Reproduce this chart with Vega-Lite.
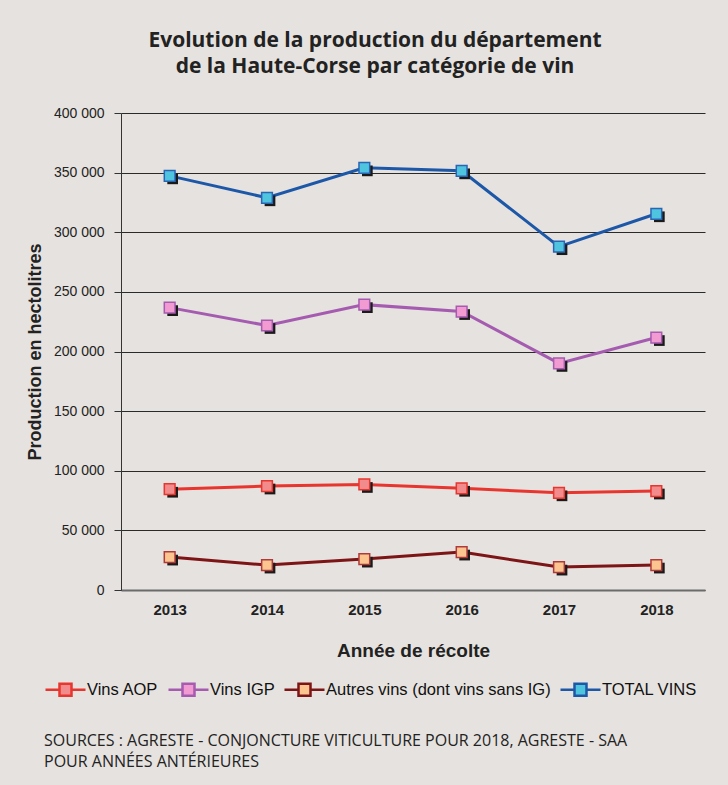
{
  "$schema": "https://vega.github.io/schema/vega-lite/v6.json",
  "width": 584,
  "height": 477,
  "autosize": {"type": "none"},
  "padding": {"left": 121, "top": 113, "right": 23, "bottom": 195},
  "background": "#e6e2df",
  "config": {
    "locale": {"number": {"decimal": ",", "thousands": " ", "grouping": [3], "currency": ["", " €"]}},
    "view": {"stroke": null},
    "font": "Liberation Sans"
  },
  "title": {
    "text": ["Evolution de la production du département", "de la Haute-Corse par catégorie de vin"],
    "font": "Open Sans",
    "fontSize": 21,
    "fontWeight": "bold",
    "color": "#222222",
    "anchor": "middle",
    "dx": -38,
    "lineHeight": 26,
    "offset": 29
  },
  "data": {
    "values": [
      {"annee": "2013", "serie": "Vins AOP", "valeur": 84500},
      {"annee": "2014", "serie": "Vins AOP", "valeur": 87200},
      {"annee": "2015", "serie": "Vins AOP", "valeur": 88500},
      {"annee": "2016", "serie": "Vins AOP", "valeur": 85300},
      {"annee": "2017", "serie": "Vins AOP", "valeur": 81500},
      {"annee": "2018", "serie": "Vins AOP", "valeur": 83000},
      {"annee": "2013", "serie": "Vins IGP", "valeur": 236800},
      {"annee": "2014", "serie": "Vins IGP", "valeur": 221800},
      {"annee": "2015", "serie": "Vins IGP", "valeur": 239300},
      {"annee": "2016", "serie": "Vins IGP", "valeur": 233500},
      {"annee": "2017", "serie": "Vins IGP", "valeur": 190000},
      {"annee": "2018", "serie": "Vins IGP", "valeur": 211700},
      {"annee": "2013", "serie": "Autres vins (dont vins sans IG)", "valeur": 27600},
      {"annee": "2014", "serie": "Autres vins (dont vins sans IG)", "valeur": 20900},
      {"annee": "2015", "serie": "Autres vins (dont vins sans IG)", "valeur": 25900},
      {"annee": "2016", "serie": "Autres vins (dont vins sans IG)", "valeur": 31800},
      {"annee": "2017", "serie": "Autres vins (dont vins sans IG)", "valeur": 19200},
      {"annee": "2018", "serie": "Autres vins (dont vins sans IG)", "valeur": 20900},
      {"annee": "2013", "serie": "TOTAL VINS", "valeur": 347300},
      {"annee": "2014", "serie": "TOTAL VINS", "valeur": 328900},
      {"annee": "2015", "serie": "TOTAL VINS", "valeur": 354000},
      {"annee": "2016", "serie": "TOTAL VINS", "valeur": 351500},
      {"annee": "2017", "serie": "TOTAL VINS", "valeur": 287900},
      {"annee": "2018", "serie": "TOTAL VINS", "valeur": 315500}
    ]
  },
  "encoding": {
    "x": {
      "field": "annee",
      "type": "ordinal",
      "scale": {"type": "point", "padding": 0.5},
      "axis": {
        "title": "Année de récolte",
        "titleFont": "Liberation Sans",
        "titleFontSize": 19,
        "titleFontWeight": "bold",
        "titleColor": "#222222",
        "titlePadding": 24,
        "labelFont": "Liberation Sans",
        "labelFontSize": 15,
        "labelFontWeight": "bold",
        "labelColor": "#222222",
        "labelPadding": 12,
        "labelAngle": 0,
        "ticks": false,
        "grid": false,
        "domainColor": "#6b6b6b",
        "domainWidth": 2
      }
    },
    "y": {
      "field": "valeur",
      "type": "quantitative",
      "scale": {"domain": [0, 400000], "nice": false},
      "axis": {
        "title": "Production en hectolitres",
        "titleFont": "Liberation Sans",
        "titleFontSize": 18,
        "titleFontWeight": "bold",
        "titleColor": "#222222",
        "titlePadding": 9,
        "labelFont": "Liberation Sans",
        "labelFontSize": 14,
        "labelColor": "#222222",
        "labelPadding": 10,
        "tickSize": 7,
        "tickColor": "#333333",
        "domainColor": "#333333",
        "grid": true,
        "gridColor": "#2a2a2a",
        "gridWidth": 1,
        "gridOpacity": 1,
        "values": [0, 50000, 100000, 150000, 200000, 250000, 300000, 350000, 400000],
        "format": ",d"
      }
    }
  },
  "layer": [
    {
      "mark": {"type": "line", "strokeWidth": 3},
      "encoding": {
        "color": {
          "field": "serie",
          "type": "nominal",
          "scale": {
            "domain": ["Vins AOP", "Vins IGP", "Autres vins (dont vins sans IG)", "TOTAL VINS"],
            "range": ["#e8352e", "#a55bb0", "#7d1416", "#1d58a8"]
          },
          "legend": {
            "orient": "none",
            "legendX": -77,
            "legendY": 555,
            "direction": "horizontal",
            "symbolType": "M-1,0H-0.3M0.3,0H1M-0.3,-0.3H0.3V0.3H-0.3Z",
            "symbolSize": 1600,
            "symbolStrokeWidth": 2.5,
            "symbolOpacity": 1,
            "labelFont": "Liberation Sans",
            "labelFontSize": 16.5,
            "labelColor": "#111111",
            "labelOffset": 0,
            "labelLimit": 400,
            "columnPadding": 4,
            "title": ["SOURCES : AGRESTE  -   CONJONCTURE VITICULTURE POUR 2018, AGRESTE  -  SAA", "POUR ANNÉES ANTÉRIEURES"],
            "titleOrient": "bottom",
            "titleAnchor": "start",
            "titleFont": "Open Sans",
            "titleFontSize": 16,
            "titleFontWeight": "normal",
            "titleColor": "#222222",
            "titleLimit": 800,
            "titleLineHeight": 21,
            "titlePadding": 32,
            "encode": {
              "symbols": {
                "update": {
                  "fill": {"scale": "fill", "field": "value"},
                  "stroke": {"scale": "color", "field": "value"}
                }
              }
            }
          }
        }
      }
    },
    {
      "mark": {"type": "point", "shape": "square", "filled": true, "size": 115, "xOffset": 3, "yOffset": 3, "color": "#1a1a1a", "opacity": 1},
      "encoding": {"detail": {"field": "serie", "type": "nominal"}}
    },
    {
      "mark": {"type": "point", "shape": "square", "filled": true, "size": 115, "strokeWidth": 1.5, "opacity": 1},
      "encoding": {
        "fill": {
          "field": "serie",
          "type": "nominal",
          "scale": {
            "domain": ["Vins AOP", "Vins IGP", "Autres vins (dont vins sans IG)", "TOTAL VINS"],
            "range": ["#f28b8b", "#f29ad2", "#fcc58f", "#4ec4df"]
          },
          "legend": {
            "orient": "none",
            "legendX": -77,
            "legendY": 555,
            "direction": "horizontal",
            "symbolType": "M-1,0H-0.3M0.3,0H1M-0.3,-0.3H0.3V0.3H-0.3Z",
            "symbolSize": 1600,
            "symbolStrokeWidth": 2.5,
            "symbolOpacity": 1,
            "labelFont": "Liberation Sans",
            "labelFontSize": 16.5,
            "labelColor": "#111111",
            "labelOffset": 0,
            "labelLimit": 400,
            "columnPadding": 4,
            "title": ["SOURCES : AGRESTE  -   CONJONCTURE VITICULTURE POUR 2018, AGRESTE  -  SAA", "POUR ANNÉES ANTÉRIEURES"],
            "titleOrient": "bottom",
            "titleAnchor": "start",
            "titleFont": "Open Sans",
            "titleFontSize": 16,
            "titleFontWeight": "normal",
            "titleColor": "#222222",
            "titleLimit": 800,
            "titleLineHeight": 21,
            "titlePadding": 32
          }
        },
        "stroke": {
          "field": "serie",
          "type": "nominal",
          "scale": {
            "domain": ["Vins AOP", "Vins IGP", "Autres vins (dont vins sans IG)", "TOTAL VINS"],
            "range": ["#e8352e", "#a55bb0", "#b03a3a", "#2a64b5"]
          },
          "legend": null
        }
      }
    }
  ]
}
